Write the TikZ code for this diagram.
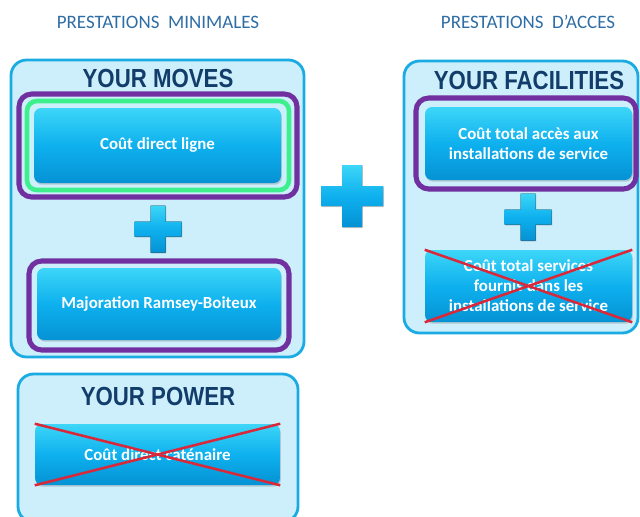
\documentclass[tikz,border=0pt]{standalone}
\usepackage{fontspec}
\usepackage{graphicx}
\setmainfont{Carlito}
\newfontfamily\headfont{Liberation Sans}
\usetikzlibrary{shadows}

\definecolor{titleblue}{HTML}{2F6DA5}
\definecolor{headnavy}{HTML}{123D6A}
\definecolor{panelfill}{HTML}{CDEFFC}
\definecolor{panelline}{HTML}{1AABE3}
\definecolor{framepurple}{HTML}{7030A0}
\definecolor{framegreen}{HTML}{3EEF8E}
\definecolor{btntop}{HTML}{3DD6F8}
\definecolor{btnmid}{HTML}{0EB0EE}
\definecolor{btnbot}{HTML}{0592D4}
\definecolor{crossred}{HTML}{D9283A}

% 1 unit = 1 pixel of the slide
\newcommand{\px}{0.025cm}
% headings are set a bit taller
\newcommand{\headtext}[1]{\scalebox{1.02}[1.2]{#1}}

% plus sign: centre x, centre y, half size, half arm
\newcommand{\drawplus}[4]{
  \fill[drop shadow={opacity=0.3,shadow xshift=0.6pt,shadow yshift=-0.8pt},
        top color=btntop, bottom color=btnbot, middle color=btnmid]
    (#1-#4,#2-#3) -- (#1+#4,#2-#3) -- (#1+#4,#2-#4) -- (#1+#3,#2-#4)
    -- (#1+#3,#2+#4) -- (#1+#4,#2+#4) -- (#1+#4,#2+#3) -- (#1-#4,#2+#3)
    -- (#1-#4,#2+#4) -- (#1-#3,#2+#4) -- (#1-#3,#2-#4) -- (#1-#4,#2-#4) -- cycle;
}

\tikzset{
  panel/.style={fill=panelfill, draw=panelline, line width=2pt, rounded corners=11pt},
  purpleframe/.style={draw=framepurple, line width=3.6pt, rounded corners=9pt},
  greenframe/.style={draw=framegreen, line width=3.3pt, rounded corners=7pt},
  button/.style={rectangle, rounded corners=5pt, inner sep=0pt,
    top color=btntop, bottom color=btnbot, middle color=btnmid,
    drop shadow={opacity=0.35,shadow xshift=0.6pt,shadow yshift=-1.2pt},
    text=white, align=center, font=\fontsize{12}{14.2}\selectfont\bfseries},
  heading/.style={text=headnavy, inner sep=0pt, font=\headfont\fontsize{15.5}{18}\selectfont\bfseries},
  sectitle/.style={text=titleblue, inner sep=0pt, font=\fontsize{13.5}{16}\selectfont},
  strike/.style={draw=crossred, line width=1.8pt},
}

\begin{document}
\begin{tikzpicture}[x=\px, y=-\px]
  \useasboundingbox (0,0) rectangle (640,516);
  \clip (0,0) rectangle (640,516);

  % titres
  \node[sectitle] (tmin) at (158,22) {PRESTATIONS\ \ MINIMALES};
  \node[sectitle] (tacc) at (528,22) {PRESTATIONS\ \ D’ACCES};

  % YOUR MOVES
  \draw[panel] (11,60) rectangle (304,357);
  \node[heading] (hmoves) at (158,78) {\headtext{YOUR MOVES}};
  \draw[purpleframe] (19,94) rectangle (297,197);
  \draw[greenframe] (27,101) rectangle (289,190);
  \node[button, minimum width=247*\px, minimum height=75*\px] (ligne) at (157.5,145.5) {Coût direct ligne};
  \drawplus{158}{229}{23.5}{7.5}
  \draw[purpleframe] (29,261) rectangle (289,350);
  \node[button, minimum width=244*\px, minimum height=72*\px] (ramsey) at (159,304) {Majoration Ramsey-Boiteux};

  % YOUR POWER
  \draw[panel] (18,374) rectangle (298,522);
  \node[heading] (hpower) at (158,396) {\headtext{YOUR POWER}};
  \node[button, minimum width=245*\px, minimum height=61*\px] (catenaire) at (157.5,454.5) {Coût direct caténaire};
  \draw[strike] (catenaire.north west) -- (catenaire.south east);
  \draw[strike] (catenaire.south west) -- (catenaire.north east);

  % grand plus
  \drawplus{352}{196}{31}{10}

  % YOUR FACILITIES
  \draw[panel] (404,61) rectangle (638,333);
  \node[heading] (hfac) at (529,80) {\headtext{YOUR FACILITIES}};
  \draw[purpleframe] (416,98) rectangle (636,189);
  \node[button, minimum width=207*\px, minimum height=73*\px] (acces) at (528.5,143.5)
    {Coût total accès aux\\installations de service};
  \drawplus{528}{217}{23.5}{7.5}
  \node[button, minimum width=207*\px, minimum height=72*\px] (services) at (528.5,286)
    {Coût total services\\fournis dans les\\installations de service};
  \draw[strike] (services.north west) -- (services.south east);
  \draw[strike] (services.south west) -- (services.north east);
\end{tikzpicture}
\end{document}
